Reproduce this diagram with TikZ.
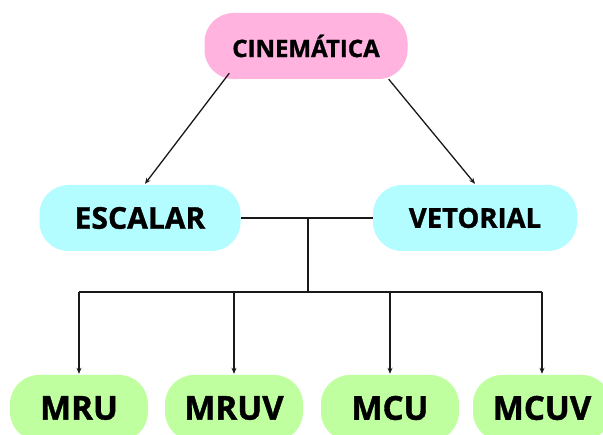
\documentclass[tikz,border=0pt]{standalone}
\usepackage{fontspec}
\setmainfont{Open Sans}[BoldFeatures={FakeBold=1.2}]
\usetikzlibrary{arrows.meta, calc}

\definecolor{rosa}{HTML}{FFB3DE}
\definecolor{ciano}{HTML}{B3FCFF}
\definecolor{verde}{HTML}{BFFFA0}

\begin{document}
\begin{tikzpicture}[x=1pt, y=-1pt,
    caixa/.style={rectangle, rounded corners=29pt, minimum height=66pt,
        inner sep=0pt, font=\bfseries},
    liga/.style={line width=1.3pt, black!90},
    seta/.style={liga, -{Stealth[length=6pt, width=5pt]}}]
    \clip (0, 0) rectangle (603, 435);
    \fill[white] (0, 0) rectangle (603, 435);

    % topo
    \node[caixa, fill=rosa, minimum width=203pt, font=\bfseries\fontsize{24}{28}\selectfont]
        (cin) at (306, 46) {CINEMÁTICA};

    % escalar e vetorial
    \node[caixa, fill=ciano, minimum width=201pt, font=\bfseries\fontsize{30}{35}\selectfont]
        (esc) at (140, 218) {ESCALAR};
    \node[caixa, fill=ciano, minimum width=204pt, font=\bfseries\fontsize{27.5}{32}\selectfont]
        (vet) at (475, 218) {VETORIAL};

    % movimentos
    \begin{scope}[every node/.style={caixa, fill=verde, minimum width=138pt,
        font=\bfseries\fontsize{33}{40}\selectfont}]
        \node (mru) at (79, 408) {MRU};
        \node (mruv) at (234, 408) {MRUV};
        \node (mcu) at (390, 408) {MCU};
        \node (mcuv) at (542, 408) {MCUV};
    \end{scope}

    % ligacoes
    \draw[seta] ($(cin.south west)+(25, -6)$) -- ($(esc.north)+(5, -1)$);
    \draw[seta] ($(cin.south east)+(-19, 0)$) -- ($(vet.north)+(0, -1)$);

    \coordinate (fork) at (308, 218);
    \coordinate (bus) at (308, 292);
    \draw[liga] (esc.east) -- (vet.west);
    \draw[liga] (fork) -- (bus);
    \draw[liga] (mru.north |- bus) -- (mcuv.north |- bus);
    \foreach \m in {mru, mruv, mcu, mcuv}
        \draw[seta] (\m.north |- bus) -- ($(\m.north)+(0, -1)$);
\end{tikzpicture}
\end{document}
